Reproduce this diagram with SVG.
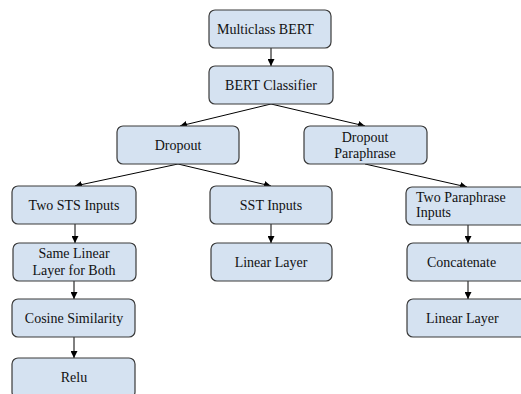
<svg xmlns="http://www.w3.org/2000/svg" width="521" height="394" viewBox="0 0 521 394">
<defs>
<marker id="ah" viewBox="0 0 10 10" refX="10" refY="5" markerWidth="7" markerHeight="7" markerUnits="userSpaceOnUse" orient="auto">
<path d="M0,0 L10,5 L0,10 z" fill="#000"/>
</marker>
<style>
.box{fill:#d5e2f1;stroke:#3a3a3a;stroke-width:1.2}
.t{font-family:'Liberation Serif','Times New Roman',Times,serif;font-size:14px;fill:#111}
.c{text-anchor:middle}
.e{stroke:#000;stroke-width:1;fill:none;marker-end:url(#ah)}
</style>
</defs>
<rect width="521" height="394" fill="#fff"/>
<g id="connectors">
<line class="e" x1="271" y1="48" x2="271" y2="66"/>
<line class="e" x1="271" y1="104" x2="180" y2="126"/>
<line class="e" x1="271" y1="104" x2="365" y2="126"/>
<line class="e" x1="178" y1="164" x2="75" y2="186"/>
<line class="e" x1="178" y1="164" x2="271" y2="186"/>
<line class="e" x1="365" y1="164" x2="467" y2="187"/>
<line class="e" x1="75" y1="224" x2="75" y2="243"/>
<line class="e" x1="74" y1="281" x2="74" y2="299"/>
<line class="e" x1="74" y1="337" x2="74" y2="358"/>
<line class="e" x1="271" y1="224" x2="271" y2="243"/>
<line class="e" x1="468" y1="225" x2="468" y2="243"/>
<line class="e" x1="468" y1="281" x2="468" y2="299"/>
</g>
<g id="multiclass-bert"><rect class="box" x="209" y="10" width="122" height="38" rx="6"/><text class="t" font-family="Liberation Serif" x="217" y="34">Multiclass BERT</text></g>
<g id="bert-classifier"><rect class="box" x="209" y="66" width="124" height="38" rx="6"/><text class="t c" x="271" y="90">BERT Classifier</text></g>
<g id="dropout"><rect class="box" x="117" y="126" width="122" height="38" rx="6"/><text class="t c" x="178" y="150">Dropout</text></g>
<g id="dropout-paraphrase"><rect class="box" x="304" y="126" width="123" height="38" rx="6"/><text class="t c" x="365" y="142">Dropout</text><text class="t c" x="365" y="158">Paraphrase</text></g>
<g id="two-sts-inputs"><rect class="box" x="12" y="186" width="124" height="38" rx="6"/><text class="t c" x="74" y="210">Two STS Inputs</text></g>
<g id="sst-inputs"><rect class="box" x="210" y="186" width="122" height="38" rx="6"/><text class="t c" x="271" y="210">SST Inputs</text></g>
<g id="two-paraphrase-inputs"><rect class="box" x="406" y="187" width="130" height="38" rx="6"/><text class="t" x="416" y="202">Two Paraphrase</text><text class="t" x="416" y="217">Inputs</text></g>
<g id="same-linear-layer"><rect class="box" x="13" y="243" width="123" height="38" rx="6"/><text class="t c" x="74" y="258">Same Linear</text><text class="t c" x="74" y="275">Layer for Both</text></g>
<g id="cosine-similarity"><rect class="box" x="12" y="299" width="123" height="38" rx="6"/><text class="t c" x="74" y="323">Cosine Similarity</text></g>
<g id="relu"><rect class="box" x="12" y="358" width="123" height="40" rx="6"/><text class="t c" x="74" y="382">Relu</text></g>
<g id="sst-linear-layer"><rect class="box" x="211" y="243" width="121" height="38" rx="6"/><text class="t c" x="271" y="267">Linear Layer</text></g>
<g id="concatenate"><rect class="box" x="407" y="243" width="130" height="38" rx="6"/><text class="t" x="427" y="267">Concatenate</text></g>
<g id="para-linear-layer"><rect class="box" x="407" y="299" width="130" height="38" rx="6"/><text class="t" x="426" y="323">Linear Layer</text></g>
</svg>
